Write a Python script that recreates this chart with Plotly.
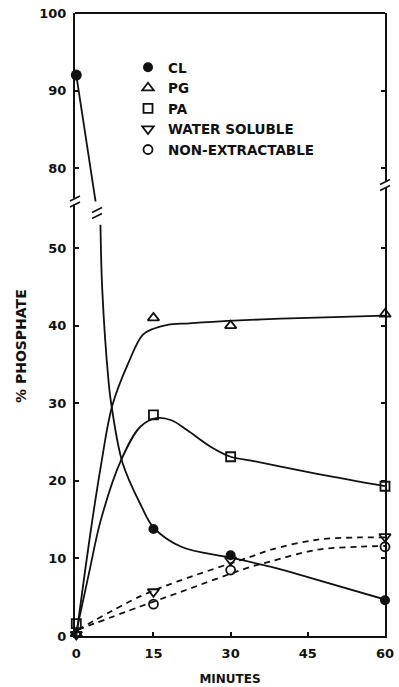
import plotly.graph_objects as go

# ---------------- data ----------------
minutes = [0, 15, 30, 60]
tick_minutes = [0, 15, 30, 45, 60]

cl_pts = [92, 13.8, 10.4, 4.6]
pg_pts = [0.3, 41.0, 40.0, 41.5]
pa_pts = [1.6, 28.5, 23.1, 19.3]
ws_pts = [0.2, 5.7, 9.8, 12.8]
ne_minutes = [15, 30, 60]
ne_pts = [4.1, 8.5, 11.5]

# hand-drawn fitted curves
cl_upper_t = [0, 2.0, 4.0]
cl_upper_v = [92, 83.2, 74.6]
cl_lower_t = [4.7, 5.05, 6.25, 6.8, 9.0, 12.6, 15, 20.4, 30, 37.9, 45, 60]
cl_lower_v = [53, 44.6, 33.0, 29.9, 22.3, 16.8, 14.0, 11.5, 10.1, 8.9, 7.6, 4.7]

pg_curve_t = [0, 2.8, 4.8, 7.0, 10, 12.9, 15, 17.7, 22, 29.4, 39.7, 50, 60]
pg_curve_v = [0, 13.5, 22, 29.7, 35.0, 38.8, 39.6, 40.1, 40.3, 40.6, 40.9, 41.1, 41.3]

pa_curve_t = [0, 2.5, 4.75, 8.6, 12.5, 15.8, 18.5, 21.6, 26.1, 30, 34, 40, 50, 60]
pa_curve_v = [0.5, 8.2, 14.9, 22.5, 27.0, 28.1, 27.8, 26.5, 24.4, 23.1, 22.6, 21.8, 20.5, 19.3]

ws_curve_t = [0.3, 12.4, 19.55, 33.8, 37.7, 46.7, 55, 60]
ws_curve_v = [0.8, 5.1, 7.0, 10.2, 11.1, 12.4, 12.7, 12.7]

ne_curve_t = [0.3, 12.4, 19.55, 33.8, 37.7, 46.7, 55, 60]
ne_curve_v = [0.8, 3.8, 5.5, 8.9, 9.6, 11.1, 11.5, 11.6]

lower_ticks = [0, 10, 20, 30, 40, 50]
upper_ticks = [80, 90, 100]

series_names = ["CL", "PG", "PA", "WATER SOLUBLE", "NON-EXTRACTABLE"]

# ---------------- styling ----------------
FONT = "DejaVu Sans, Verdana, sans-serif"
BLACK = "#111111"
SPLIT = 0.6975          # paper fraction where the axis break sits
LOWER_RANGE = [0, 56]
UPPER_RANGE = [75.7, 100]
PL, PT, PW, PH = 75, 13, 310, 623   # plot area in pixels

fig = go.Figure()

line_solid = dict(color=BLACK, width=1.8, shape="spline", smoothing=1)
line_dash = dict(color=BLACK, width=1.8, shape="spline", smoothing=1, dash="6px,5px")

# curves
fig.add_trace(go.Scatter(x=cl_upper_t, y=cl_upper_v, mode="lines", line=dict(color=BLACK, width=1.8),
                         yaxis="y2", showlegend=False, hoverinfo="skip"))
fig.add_trace(go.Scatter(x=cl_lower_t, y=cl_lower_v, mode="lines", line=line_solid,
                         showlegend=False, hoverinfo="skip"))
fig.add_trace(go.Scatter(x=pg_curve_t, y=pg_curve_v, mode="lines", line=line_solid,
                         showlegend=False, hoverinfo="skip"))
fig.add_trace(go.Scatter(x=pa_curve_t, y=pa_curve_v, mode="lines", line=line_solid,
                         showlegend=False, hoverinfo="skip"))
fig.add_trace(go.Scatter(x=ws_curve_t, y=ws_curve_v, mode="lines", line=line_dash,
                         showlegend=False, hoverinfo="skip"))
fig.add_trace(go.Scatter(x=ne_curve_t, y=ne_curve_v, mode="lines", line=line_dash,
                         showlegend=False, hoverinfo="skip"))

# markers
mk_line = dict(color=BLACK, width=1.8)
fig.add_trace(go.Scatter(x=minutes[:1], y=cl_pts[:1], yaxis="y2", mode="markers",
                         marker=dict(symbol="circle", size=11, color=BLACK),
                         showlegend=False, cliponaxis=False))
fig.add_trace(go.Scatter(x=minutes[1:], y=cl_pts[1:], mode="markers", name=series_names[0],
                         marker=dict(symbol="circle", size=10, color=BLACK), cliponaxis=False))
fig.add_trace(go.Scatter(x=minutes, y=pg_pts, mode="markers", name=series_names[1],
                         marker=dict(symbol="triangle-up-open", size=10, color=BLACK, line=mk_line),
                         cliponaxis=False))
fig.add_trace(go.Scatter(x=minutes, y=pa_pts, mode="markers", name=series_names[2],
                         marker=dict(symbol="square-open", size=9, color=BLACK, line=mk_line),
                         cliponaxis=False))
fig.add_trace(go.Scatter(x=minutes, y=ws_pts, mode="markers", name=series_names[3],
                         marker=dict(symbol="triangle-down-open", size=10, color=BLACK, line=mk_line),
                         cliponaxis=False))
fig.add_trace(go.Scatter(x=ne_minutes, y=ne_pts, mode="markers", name=series_names[4],
                         marker=dict(symbol="circle-open", size=9, color=BLACK, line=mk_line),
                         cliponaxis=False))

axis_common = dict(showline=True, linecolor=BLACK, linewidth=2, ticks="inside", ticklen=4,
                   tickwidth=1.5, tickcolor=BLACK, showgrid=False, zeroline=False,
                   automargin=False,
                   tickfont=dict(family=FONT, size=13, color=BLACK, weight="bold"))

fig.update_layout(
    width=399, height=687,
    margin=dict(l=PL, r=399 - PL - PW, t=PT, b=687 - PT - PH, autoexpand=False),
    paper_bgcolor="white", plot_bgcolor="white",
    xaxis=dict(range=[-0.25, 60], tickvals=tick_minutes, mirror=False,
               title=dict(text="MINUTES", standoff=15,
                          font=dict(family=FONT, size=12, color=BLACK, weight="bold")),
               ticklabelstandoff=4, **axis_common),
    yaxis=dict(domain=[0, SPLIT], range=LOWER_RANGE, tickvals=lower_ticks, mirror="ticks",
               anchor="x", ticklabelstandoff=4, **axis_common),
    yaxis2=dict(domain=[SPLIT, 1], range=UPPER_RANGE, tickvals=upper_ticks, mirror="ticks",
                anchor="x", ticklabelstandoff=4, **axis_common),
    legend=dict(x=(128 - PL) / PW, y=(PH + PT - 52) / PH, xanchor="left", yanchor="top",
                bgcolor="rgba(0,0,0,0)",
                font=dict(family=FONT, size=13.5, color=BLACK, weight="bold"),
                itemsizing="trace"),
    showlegend=True,
)

# y-axis title
fig.add_annotation(text="% PHOSPHATE", textangle=-90, xref="paper", yref="paper",
                   x=(21 - PL) / PW, y=(PT + PH - 346) / PH, xanchor="center", yanchor="middle",
                   showarrow=False,
                   font=dict(family=FONT, size=14, color=BLACK, weight="bold"))

# top frame line
fig.add_shape(type="line", xref="paper", yref="paper", x0=0, x1=1, y0=1, y1=1,
              line=dict(color=BLACK, width=2))

# break marks "//"
def break_mark(fx, fy):
    fig.add_shape(type="rect", xref="paper", yref="paper", xsizemode="pixel", ysizemode="pixel",
                  xanchor=fx, yanchor=fy, x0=-3, x1=3, y0=-3, y1=3,
                  fillcolor="white", line=dict(width=0))
    for off in (-3, 3):
        fig.add_shape(type="line", xref="paper", yref="paper", xsizemode="pixel", ysizemode="pixel",
                      xanchor=fx, yanchor=fy, x0=-5, x1=5, y0=off - 2.5, y1=off + 2.5,
                      line=dict(color=BLACK, width=1.8))

break_mark(0, SPLIT)
break_mark(1, (PT + PH - 185) / PH)
break_mark((97 - PL) / PW, (PT + PH - 213) / PH)

fig.write_html("out.html", config={"displayModeBar": False},
               post_script="document.body.style.margin='0';")
